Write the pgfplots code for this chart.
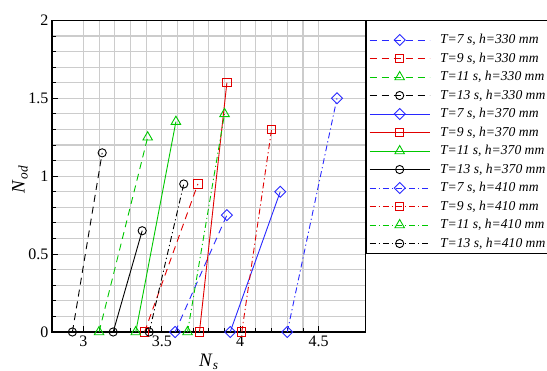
\documentclass[border=0pt]{standalone}
\usepackage{pgfplots}
\pgfplotsset{compat=1.18}
\usepackage{fontspec}
\setmainfont{Liberation Serif}
\definecolor{cblue}{RGB}{40,40,255}
\definecolor{cred}{RGB}{225,0,0}
\definecolor{cgreen}{RGB}{0,200,0}
\tikzset{
  dsh/.style={dash pattern=on 7bp off 5bp},
  dshd/.style={dash pattern=on 6bp off 3bp on 1.2bp off 3bp},
}
\pgfplotsset{
  mdia/.style={mark=square, mark size=3.9bp, mark options={solid, rotate=45}},
  msq/.style={mark=square, mark size=4.1bp, mark options={solid}},
  mtri/.style={mark=triangle, mark size=5.5bp, mark options={solid}},
  mcirc/.style={mark=o, mark size=4.1bp, mark options={solid}},
}
\begin{document}
\begin{tikzpicture}
\begin{axis}[
  at={(52bp,39bp)}, anchor=south west,
  scale only axis, width=313.7bp, height=311.6bp,
  xmin=2.8, xmax=4.8, ymin=0, ymax=2,
  xtick={3,3.5,4,4.5}, ytick={0,0.5,1,1.5,2},
  xticklabels={3,3.5,4,4.5}, yticklabels={0,0.5,1,1.5,2},
  minor x tick num=4, minor y tick num=4,
  grid=both,
  major grid style={draw=black!20, line width=1.1bp},
  minor grid style={draw=black!20, line width=1.1bp},
  tick align=inside, xtick pos=bottom, ytick pos=left,
  major tick length=6bp, minor tick length=4bp,
  tick style={black, line width=0.9bp},
  axis line style={line width=1.2bp},
  ticklabel style={font=\fontsize{16bp}{18bp}\selectfont},
  /pgf/number format/assume math mode=true,
  xlabel={\textit{N}\textsubscript{\textit{s}}},
  ylabel={\textit{N}\textsubscript{\textit{od}}},
  label style={font=\fontsize{19bp}{21bp}\selectfont},
  xlabel style={at={(axis description cs:0.5,-0.07)}, anchor=north, inner sep=0pt},
  ylabel style={at={(axis description cs:-0.102,0.49)}, anchor=center, inner sep=0pt},
  clip=false,
  every axis plot/.append style={line width=0.9bp},
  legend style={at={(1.002,1.002)}, anchor=north west, draw=black, line width=1bp,
    font=\fontsize{13.6bp}{15bp}\selectfont\itshape, row sep=1bp,
    inner xsep=2.4bp, inner ysep=1bp, fill=white,
    nodes={inner xsep=2bp, inner ysep=2bp, text height=10.5bp, text depth=3bp},
    /tikz/every odd column/.append style={column sep=8bp}},
  legend cell align=left,
  legend image code/.code={\draw[mark repeat=2,mark phase=2] plot coordinates {(0bp,0bp) (30bp,0bp) (60bp,0bp)};},
]
\addlegendimage{empty legend}
\addlegendentry[text height=0pt, text depth=0pt, inner ysep=4.5bp]{}
% h=330 dashed
\addplot[cblue, dsh, mdia] coordinates {(3.585,0) (3.915,0.75)};
\addlegendentry{T=7 s, h=330 mm}
\addplot[cred, dsh, msq] coordinates {(3.39,0) (3.73,0.95)};
\addlegendentry{T=9 s, h=330 mm}
\addplot[cgreen, dsh, mtri] coordinates {(3.10,0) (3.41,1.25)};
\addlegendentry{T=11 s, h=330 mm}
\addplot[black, dsh, mcirc] coordinates {(2.93,0) (3.12,1.15)};
\addlegendentry{T=13 s, h=330 mm}
% h=370 solid
\addplot[cblue, mdia] coordinates {(3.936,0) (4.255,0.90)};
\addlegendentry{T=7 s, h=370 mm}
\addplot[cred, msq] coordinates {(3.74,0) (3.915,1.60)};
\addlegendentry{T=9 s, h=370 mm}
\addplot[cgreen, mtri] coordinates {(3.334,0) (3.59,1.35)};
\addlegendentry{T=11 s, h=370 mm}
\addplot[black, mcirc] coordinates {(3.19,0) (3.375,0.65)};
\addlegendentry{T=13 s, h=370 mm}
% h=410 dash-dot
\addplot[cblue, dshd, mdia] coordinates {(4.30,0) (4.617,1.50)};
\addlegendentry{T=7 s, h=410 mm}
\addplot[cred, dshd, msq] coordinates {(4.01,0) (4.20,1.30)};
\addlegendentry{T=9 s, h=410 mm}
\addplot[cgreen, dshd, mtri] coordinates {(3.664,0) (3.90,1.40)};
\addlegendentry{T=11 s, h=410 mm}
\addplot[black, dshd, mcirc] coordinates {(3.42,0) (3.64,0.95)};
\addlegendentry{T=13 s, h=410 mm}
\end{axis}
\pgfresetboundingbox
\path[use as bounding box] (0,0) rectangle (547bp,371bp);
\end{tikzpicture}
\end{document}
